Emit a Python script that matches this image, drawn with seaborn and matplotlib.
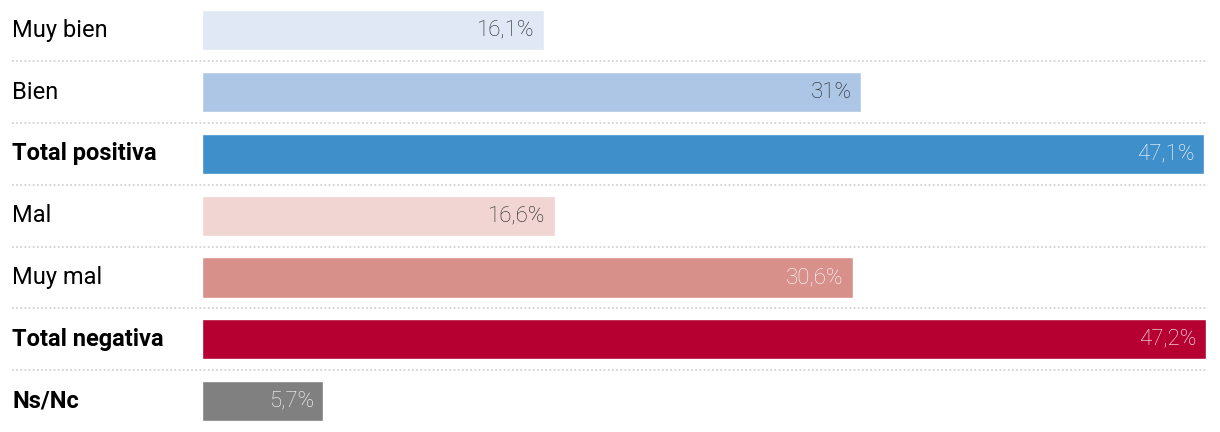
import pandas as pd
import seaborn as sns
import matplotlib.pyplot as plt
import matplotlib.transforms as mtransforms

categories = ["Muy bien", "Bien", "Total positiva", "Mal", "Muy mal", "Total negativa", "Ns/Nc"]
values = [16.1, 31.0, 47.1, 16.6, 30.6, 47.2, 5.7]
value_labels = ["16,1%", "31%", "47,1%", "16,6%", "30,6%", "47,2%", "5,7%"]
bold_rows = ["Total positiva", "Total negativa", "Ns/Nc"]
colors = ["#e0e8f5", "#adc6e6", "#3f8fcb", "#f1d5d3", "#d7908a", "#b60031", "#808080"]
text_colors = ["#222222", "#222222", "white", "#222222", "white", "white", "white"]

df = pd.DataFrame({"cat": categories, "val": values})

sns.set_style("white")
plt.rcParams["font.family"] = ["Roboto", "DejaVu Sans"]

fig = plt.figure(figsize=(12.2, 4.32), dpi=100)
ax = fig.add_axes([202 / 1220, 0, 1004 / 1220, 1])

sns.barplot(data=df, y="cat", x="val", hue="cat", palette=colors,
            orient="h", width=0.65, legend=False, ax=ax, saturation=1)

ax.set_xlim(0, 47.2)
ax.set_ylim(6.5, -0.49)
ax.set_xlabel("")
ax.set_ylabel("")
ax.set_xticks([])
ax.set_yticks([])
sns.despine(ax=ax, left=True, bottom=True)

# value labels inside bar ends
for i, (v, lab, tc) in enumerate(zip(values, value_labels, text_colors)):
    ax.text(v - 0.45, i, lab, ha="right", va="center", color=tc,
            fontsize=16, fontweight="light")

# category labels on the left
lab_tr = mtransforms.blended_transform_factory(fig.transFigure, ax.transData)
for i, c in enumerate(categories):
    ax.text(12 / 1220, i, c, transform=lab_tr, ha="left", va="center",
            fontsize=17, color="black",
            fontweight="bold" if c in bold_rows else "normal")

# dotted separators
for i in range(len(categories) - 1):
    ax.plot([12 / 1220, 1208 / 1220], [i + 0.5, i + 0.5], transform=lab_tr,
            color="#cccccc", linestyle=(0, (1, 1.5)), linewidth=1.2, clip_on=False)

fig.savefig("out.png", dpi=100)
